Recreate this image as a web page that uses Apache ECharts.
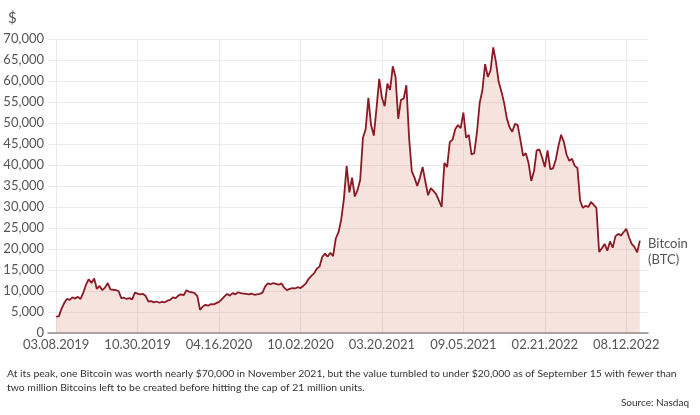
<!DOCTYPE html>
<html><head><meta charset="utf-8">
<script src="https://cdn.jsdelivr.net/npm/echarts@6/dist/echarts.min.js"></script>
<style>html,body{margin:0;padding:0;background:#fff}#c{width:700px;height:415px}</style>
</head><body><div id="c"></div>
<script>
// Tick labels on the x axis (one every 30 data points)
const tickLabels = ['03.08.2019','10.30.2019','04.16.2020','10.02.2020','03.20.2021','09.05.2021','02.21.2022','08.12.2022'];
const labelStep = 30;
const padBefore = 3;   // empty categories before first point
const padAfter = 3;    // empty categories after last point
// Bitcoin price (USD)
const btcValues = [
 3900,3950,5800,7200,8100,7900,8500,8200,8600,8100,
 9600,11500,12800,11900,13000,10500,11200,10200,10800,11900,
 10400,10300,10200,10000,8300,8400,8100,8300,8000,9600,
 9400,9200,9300,8800,7500,7600,7300,7500,7200,7400,
 7300,7700,7900,8500,8300,8900,9200,9000,10200,9800,
 9700,9500,8800,5500,6300,6700,6500,6900,6800,7100,
 7400,8000,8700,9300,8900,9500,9200,9700,9500,9400,
 9300,9200,9400,9100,9200,9300,9600,11100,11800,11600,
 11900,11700,11500,11800,10800,10200,10500,10700,10600,10900,
 10700,11200,11800,12900,13600,14200,15300,15800,18100,18900,
 18200,19100,18300,22500,24000,27000,32000,39800,33500,37000,
 32500,34000,36500,46500,48500,56000,49500,47000,53500,60500,
 56000,54000,59400,57900,63500,61000,51000,55500,55800,59000,
 46500,38500,37000,35000,37000,39500,36000,32800,34500,33800,
 33000,31500,30000,40500,39500,45500,46000,48500,49500,48800,
 52500,46500,47200,42500,42800,47800,54800,57800,64000,61000,
 62500,68000,64500,59800,57500,54800,51100,49000,47900,49800,
 49500,46000,42200,42800,40500,36200,38500,43500,43700,41800,
 39500,43500,39000,39200,41200,44500,47200,45500,42500,41000,
 41500,39800,39300,31500,29800,30300,30000,31200,30500,29800,
 19300,20200,21200,19600,21800,20300,23000,23600,23200,24000,
 24800,22800,21200,20500,19200,22000
];
const seriesName = 'Bitcoin (BTC)';
const yMax = 70000, yStep = 5000;
const captionLines = [
 'At its peak, one Bitcoin was worth nearly $70,000 in November 2021, but the value tumbled to under $20,000 as of September 15 with fewer than',
 'two million Bitcoins left to be created before hitting the cap of 21 million units.'
];
const sourceText = 'Source: Nasdaq';

const n = padBefore + btcValues.length + padAfter;
const categories = [];
const data = [];
for (let i = 0; i < n; i++) {
  const j = i - padBefore;
  categories.push(j >= 0 && j % labelStep === 0 && tickLabels[j / labelStep] ? tickLabels[j / labelStep] : '');
  data.push(j >= 0 && j < btcValues.length ? btcValues[j] : null);
}
const isTick = (idx) => categories[idx] !== '';
const FONT = 'Lato, "Noto Sans", sans-serif';

const chart = echarts.init(document.getElementById('c'), null, {renderer: 'canvas'});
chart.setOption({
  animation: false,
  backgroundColor: '#fff',
  grid: {left: 48, right: 52, top: 39, bottom: 82, containLabel: false},
  xAxis: {
    type: 'category', data: categories, boundaryGap: false,
    axisLine: {show: true, lineStyle: {color: '#8c8c8c', width: 1.5}},
    axisTick: {show: false},
    axisLabel: {interval: (i) => isTick(i), color: '#555', fontSize: 13, fontFamily: FONT, margin: 5, hideOverlap: false},
    splitLine: {show: true, interval: (i) => isTick(i), lineStyle: {color: '#ebebeb', width: 1}}
  },
  yAxis: {
    type: 'value', min: 0, max: yMax, interval: yStep,
    axisLine: {show: false}, axisTick: {show: false},
    axisLabel: {color: '#555', fontSize: 13, fontFamily: FONT, margin: 4,
      formatter: (v) => v.toLocaleString('en-US')},
    splitLine: {show: true, lineStyle: {color: '#ebebeb', width: 1}}
  },
  series: [{
    name: seriesName, type: 'line', data: data, symbol: 'none', connectNulls: false,
    lineStyle: {color: '#8b1a24', width: 1.8},
    areaStyle: {color: 'rgba(218,122,98,0.3)'},
    z: 3
  }],
  graphic: [
    {type: 'text', left: 8, top: 11, style: {text: '$', fill: '#555', font: '15px ' + FONT}},
    {type: 'text', left: 648, top: 236, style: {text: 'Bitcoin\n(BTC)', fill: '#555', font: '13px ' + FONT, lineHeight: 16}},
    {type: 'text', left: 7, top: 367, style: {text: captionLines.join('\n'), fill: '#333', font: '10.4px ' + FONT, lineHeight: 14}},
    {type: 'text', right: 11, top: 398, style: {text: sourceText, fill: '#333', font: '10px ' + FONT}}
  ]
});
</script>
</body></html>
